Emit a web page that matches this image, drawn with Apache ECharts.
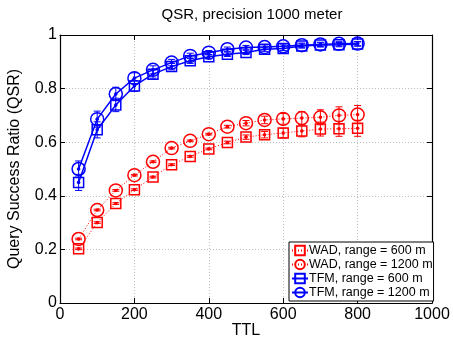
<!DOCTYPE html>
<html>
<head>
<meta charset="utf-8">
<script src="https://cdn.jsdelivr.net/npm/echarts@6/dist/echarts.min.js"></script>
<style>
html,body{margin:0;padding:0;background:#fff;}
#chart{width:453px;height:337px;}
</style>
</head>
<body>
<div id="chart"></div>
<script>
var ttl = [50,100,150,200,250,300,350,400,450,500,550,600,650,700,750,800];
var wad600  = [0.202,0.300,0.371,0.423,0.470,0.516,0.547,0.575,0.599,0.619,0.628,0.634,0.642,0.649,0.650,0.652];
var wad600Err = [0.003,0.003,0.003,0.003,0.003,0.003,0.003,0.003,0.005,0.008,0.012,0.018,0.022,0.026,0.028,0.03];
var wad1200 = [0.239,0.347,0.420,0.477,0.527,0.578,0.605,0.630,0.658,0.671,0.683,0.687,0.690,0.693,0.700,0.703];
var wad1200Err = [0.003,0.003,0.003,0.003,0.003,0.003,0.003,0.003,0.005,0.01,0.014,0.02,0.024,0.028,0.032,0.034];
var tfm600  = [0.450,0.646,0.739,0.810,0.854,0.882,0.904,0.919,0.928,0.935,0.947,0.950,0.959,0.963,0.964,0.966];
var tfm600Err = [0.03,0.03,0.025,0.02,0.015,0.012,0.01,0.008,0.008,0.008,0.008,0.008,0.008,0.008,0.008,0.008];
var tfm1200 = [0.500,0.686,0.780,0.839,0.870,0.897,0.922,0.934,0.947,0.953,0.955,0.958,0.962,0.965,0.967,0.968];
var tfm1200Err = [0.03,0.03,0.025,0.02,0.015,0.012,0.01,0.008,0.008,0.008,0.008,0.008,0.008,0.008,0.008,0.008];
var names = ['WAD, range = 600 m','WAD, range = 1200 m','TFM, range = 600 m','TFM, range = 1200 m'];
var xTicks = [0,200,400,600,800,1000];
var yTicks = [0,0.2,0.4,0.6,0.8,1];

var RED = '#ff0000', BLUE = '#0000ff';
var FONT = 'Liberation Sans, Arial, Helvetica, sans-serif';

function pairs(ys){ return ttl.map(function(x,i){ return [x, ys[i]]; }); }
function triples(ys, es){ return ttl.map(function(x,i){ return [x, ys[i], es[i]]; }); }

function errSeries(ys, es, color, lw){
  return {
    type:'custom', silent:true, z:4,
    data: triples(ys, es),
    renderItem: function(params, api){
      var x = api.value(0), y = api.value(1), e = api.value(2);
      var p = api.coord([x,y]), lo = api.coord([x,y-e]), hi = api.coord([x,y+e]);
      var cw = 3.5;
      var st = {stroke: color, lineWidth: lw, fill: null};
      return {type:'group', children:[
        {type:'line', shape:{x1:p[0],y1:lo[1],x2:p[0],y2:hi[1]}, style:st},
        {type:'line', shape:{x1:p[0]-cw,y1:lo[1],x2:p[0]+cw,y2:lo[1]}, style:st},
        {type:'line', shape:{x1:p[0]-cw,y1:hi[1],x2:p[0]+cw,y2:hi[1]}, style:st},
        {type:'circle', shape:{cx:p[0],cy:p[1],r:1.8}, style:{fill:color, stroke:null}}
      ]};
    }
  };
}

function lineSeries(name, ys, color, symbol, size, lineType, lw){
  return {
    name: name, type:'line', data: pairs(ys), z:3,
    symbol: symbol, symbolSize: size, showAllSymbol:true,
    lineStyle:{color: color, width: lw, type: lineType},
    itemStyle:{color: 'rgba(255,255,255,0)', borderColor: color, borderWidth: 1.5},
    emphasis:{disabled:true}
  };
}

function axisCommon(){
  return {
    axisLine:{show:true, onZero:false, lineStyle:{color:'#000', width:1.2}},
    axisTick:{show:true, inside:true, length:5, lineStyle:{color:'#000', width:1}},
    axisLabel:{color:'#000', fontFamily:FONT, fontSize:16},
    splitLine:{show:false}
  };
}

var xMain = Object.assign(axisCommon(), {
  type:'value', position:'bottom', min:0, max:1000, interval:200,
  name:'TTL', nameLocation:'middle', nameGap:20, nameMoveOverlap:false,
  nameTextStyle:{color:'#000', fontFamily:FONT, fontSize:16},
  splitLine:{show:true, lineStyle:{color:'#bdbdbd', type:[1,2], width:1}}
});
xMain.axisLabel.margin = 4;
xMain.axisLabel.formatter = function(v){ return xTicks.indexOf(v) >= 0 ? String(v) : ''; };
var xTop = Object.assign(axisCommon(), {type:'value', position:'top', min:0, max:1000, interval:200});
xTop.axisLabel = {show:false};

var yMain = Object.assign(axisCommon(), {
  type:'value', position:'left', min:0, max:1, interval:0.2,
  name:'Query Success Ratio (QSR)', nameLocation:'middle', nameGap:37, nameMoveOverlap:false,
  nameTextStyle:{color:'#000', fontFamily:FONT, fontSize:16},
  splitLine:{show:true, lineStyle:{color:'#bdbdbd', type:[1,2], width:1}}
});
yMain.axisLabel.margin = 3;
yMain.axisLabel.formatter = function(v){
  for (var i=0;i<yTicks.length;i++){ if (Math.abs(v-yTicks[i])<1e-9) return String(yTicks[i]); }
  return '';
};
var yRight = Object.assign(axisCommon(), {type:'value', position:'right', min:0, max:1, interval:0.2});
yRight.axisLabel = {show:false};

var option = {
  animation:false,
  backgroundColor:'#fff',
  title:{text:'QSR, precision 1000 meter', left: 247, textAlign:'center', top:2,
    textStyle:{color:'#000', fontFamily:FONT, fontSize:15, fontWeight:'normal'}},
  grid:{left:60, right:21, top:35, bottom:34, containLabel:false, outerBoundsMode:'none'},
  xAxis:[xMain, xTop],
  yAxis:[yMain, yRight],
  legend:{
    data:names, orient:'vertical', left:289, top:242,
    backgroundColor:'#fff', borderColor:'#000', borderWidth:1, borderRadius:0,
    padding:[2,1,2,2], itemGap:1, itemWidth:16, itemHeight:12,
    textStyle:{color:'#000', fontFamily:FONT, fontSize:12.5, padding:[0,0,0,-4]},
    selectedMode:false
  },
  series:[
    lineSeries(names[0], wad600, RED, 'rect', 10, [1,2], 1),
    lineSeries(names[1], wad1200, RED, 'circle', 13, [1,2], 1),
    lineSeries(names[2], tfm600, BLUE, 'rect', 10, 'solid', 1.5),
    lineSeries(names[3], tfm1200, BLUE, 'circle', 13, 'solid', 1.5),
    errSeries(wad600, wad600Err, RED, 1),
    errSeries(wad1200, wad1200Err, RED, 1),
    errSeries(tfm600, tfm600Err, BLUE, 1),
    errSeries(tfm1200, tfm1200Err, BLUE, 1)
  ]
};
var chart = echarts.init(document.getElementById('chart'), null, {renderer:'canvas'});
chart.setOption(option);
</script>
</body>
</html>
